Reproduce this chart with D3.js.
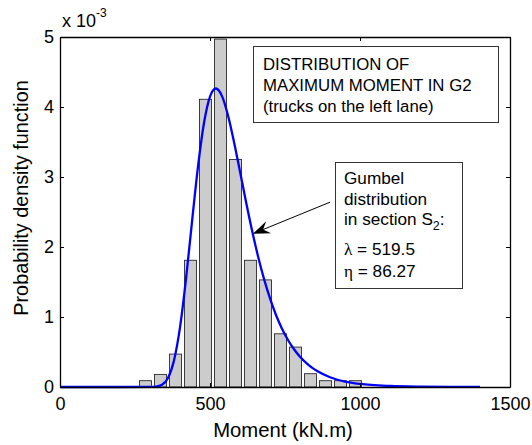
<!DOCTYPE html>
<html>
<head>
<meta charset="utf-8">
<script src="https://cdn.jsdelivr.net/npm/d3@7"></script>
<style>
  html, body { margin: 0; padding: 0; background: #fff; }
  svg { display: block; font-family: "Liberation Sans", Arial, sans-serif; }
</style>
</head>
<body>
<svg id="chart" width="532" height="445"></svg>
<script>
// ---- data ----
const binCenters = [285, 335, 385, 435, 485, 535, 585, 635, 685, 735, 785, 835, 885, 935, 985];
const binValues  = [0.09, 0.18, 0.47, 1.81, 4.11, 4.97, 3.25, 1.81, 1.53, 0.76, 0.57, 0.19, 0.09, 0.09, 0.09];
const binWidth = 50;

const curveX = [0, 200, 300, 320, 340, 360, 380, 400, 420, 440, 460, 480, 500, 519.5, 540, 560, 580, 600, 620, 640, 660, 680, 700, 720, 740, 760, 780, 800, 830, 860, 900, 950, 1000, 1100, 1200, 1300, 1400];
const curveY = [0, 0, 0.0004, 0.0048, 0.031, 0.128, 0.379, 0.851, 1.544, 2.360, 3.148, 3.771, 4.149, 4.264, 4.155, 3.879, 3.501, 3.077, 2.647, 2.239, 1.869, 1.544, 1.265, 1.029, 0.833, 0.671, 0.539, 0.432, 0.309, 0.220, 0.139, 0.078, 0.044, 0.014, 0.004, 0.001, 0.0004];

const xTicks = [0, 500, 1000, 1500];
const yTicks = [0, 1, 2, 3, 4, 5];

const titleLines = ["DISTRIBUTION OF", "MAXIMUM MOMENT IN G2", "(trucks on the left lane)"];
const xLabel = "Moment (kN.m)";
const yLabel = "Probability density function";

// annotation anchor (data coords)
const arrowTip = [643, 2.19];
const arrowTail = [900, 2.64];

// ---- layout ----
const svg = d3.select("#chart");
const x = d3.scaleLinear().domain([0, 1500]).range([60, 510]);
const y = d3.scaleLinear().domain([0, 5]).range([387, 37]);

// bars
svg.append("g").selectAll("rect")
  .data(binCenters.map((c, i) => ({c, v: binValues[i]})))
  .join("rect")
  .attr("x", d => x(d.c - binWidth * 0.4))
  .attr("width", d => x(d.c + binWidth * 0.4) - x(d.c - binWidth * 0.4))
  .attr("y", d => y(d.v))
  .attr("height", d => y(0) - y(d.v))
  .attr("fill", "#cccccc")
  .attr("stroke", "#2a2a2a")
  .attr("stroke-width", 0.9);

// curve
const line = d3.line()
  .x(d => x(d[0]))
  .y(d => y(d[1]))
  .curve(d3.curveMonotoneX);
svg.append("path")
  .datum(curveX.map((cx, i) => [cx, curveY[i]]))
  .attr("d", line)
  .attr("fill", "none")
  .attr("stroke", "#0000ff")
  .attr("stroke-width", 2.3);

// axes
const axisFont = 18;
const gB = svg.append("g").attr("transform", `translate(0,${y(0)})`)
  .call(d3.axisBottom(x).tickValues(xTicks).tickSizeInner(-4).tickSizeOuter(0).tickPadding(10).tickFormat(d3.format("d")));
const gL = svg.append("g").attr("transform", `translate(${x(0)},0)`)
  .call(d3.axisLeft(y).tickValues(yTicks).tickSizeInner(-4).tickSizeOuter(0).tickPadding(6).tickFormat(d3.format("d")));
const gT = svg.append("g").attr("transform", `translate(0,${y(5)})`)
  .call(d3.axisTop(x).tickValues(xTicks).tickSizeInner(-4).tickSizeOuter(0).tickFormat(""));
const gR = svg.append("g").attr("transform", `translate(${x(1500)},0)`)
  .call(d3.axisRight(y).tickValues(yTicks).tickSizeInner(-4).tickSizeOuter(0).tickFormat(""));
[gB, gL, gT, gR].forEach(g => {
  g.selectAll("path.domain").attr("stroke", "#000").attr("stroke-width", 1.3);
  g.selectAll(".tick line").attr("stroke", "#000");
  g.selectAll(".tick text").attr("font-size", axisFont).attr("fill", "#000")
    .attr("font-family", "Liberation Sans, Arial, sans-serif");
});

// exponent label
const expT = svg.append("text").attr("x", 62).attr("y", 27).attr("font-size", 18).attr("fill", "#000");
expT.append("tspan").text("x 10");
expT.append("tspan").attr("dy", -10).attr("font-size", 12).text("-3");

// axis labels
svg.append("text")
  .attr("x", (x(0) + x(1500)) / 2 - 2).attr("y", 437)
  .attr("text-anchor", "middle").attr("font-size", 20.3).attr("fill", "#000")
  .text(xLabel);
svg.append("text")
  .attr("transform", `translate(28,198) rotate(-90)`)
  .attr("text-anchor", "middle").attr("font-size", 19.8).attr("fill", "#000")
  .text(yLabel);

// title box
svg.append("rect")
  .attr("x", 253.5).attr("y", 46.5).attr("width", 245).attr("height", 76)
  .attr("fill", "#fff").attr("stroke", "#333").attr("stroke-width", 1);
svg.append("g").selectAll("text").data(titleLines).join("text")
  .attr("x", 263).attr("y", (d, i) => 70 + i * 21)
  .attr("font-size", 16.8).attr("fill", "#000")
  .text(d => d);

// gumbel annotation box
svg.append("rect")
  .attr("x", 335.5).attr("y", 162.5).attr("width", 127).attr("height", 126)
  .attr("fill", "#fff").attr("stroke", "#333").attr("stroke-width", 1);
const ann = svg.append("g").attr("font-size", 17.2).attr("fill", "#000");
ann.append("text").attr("x", 344).attr("y", 184).text("Gumbel");
ann.append("text").attr("x", 344).attr("y", 205).text("distribution");
const t3 = ann.append("text").attr("x", 344).attr("y", 225);
t3.append("tspan").text("in section S");
t3.append("tspan").attr("dy", 5).attr("font-size", 12.5).text("2");
t3.append("tspan").attr("dy", -5).text(":");
const t4 = ann.append("text").attr("x", 344).attr("y", 255);
t4.append("tspan").attr("font-family", "Liberation Serif, Times New Roman, serif").text("λ");
t4.append("tspan").text(" = 519.5");
const t5 = ann.append("text").attr("x", 344).attr("y", 277);
t5.append("tspan").attr("font-family", "Liberation Serif, Times New Roman, serif").text("η");
t5.append("tspan").text(" = 86.27");

// arrow
const tip = [x(arrowTip[0]), y(arrowTip[1])];
const tail = [x(arrowTail[0]), y(arrowTail[1])];
const dx = tail[0] - tip[0], dy = tail[1] - tip[1];
const len = Math.hypot(dx, dy);
const ux = dx / len, uy = dy / len;
const nx = -uy, ny = ux;
const hl = 17, hw = 6.5, notch = 11;
svg.append("line")
  .attr("x1", tip[0] + ux * notch).attr("y1", tip[1] + uy * notch)
  .attr("x2", tail[0]).attr("y2", tail[1])
  .attr("stroke", "#000").attr("stroke-width", 1);
svg.append("path")
  .attr("d", d3.line()([
    tip,
    [tip[0] + ux * hl + nx * hw, tip[1] + uy * hl + ny * hw],
    [tip[0] + ux * notch, tip[1] + uy * notch],
    [tip[0] + ux * hl - nx * hw, tip[1] + uy * hl - ny * hw]
  ]) + "Z")
  .attr("fill", "#000");
</script>
</body>
</html>
